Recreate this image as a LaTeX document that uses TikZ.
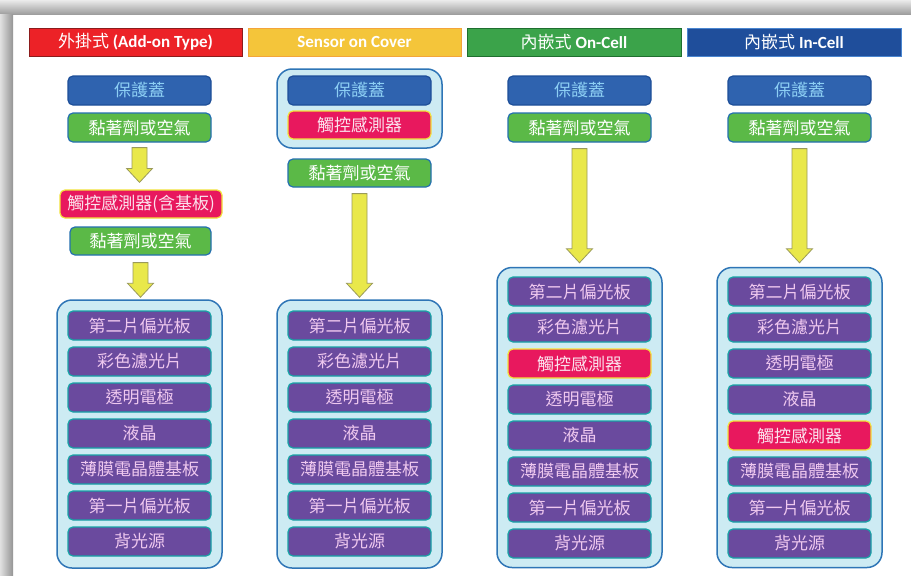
\documentclass[tikz,border=0pt]{standalone}
\usepackage{fontspec}
\newfontfamily\cjk{Noto Sans CJK TC}
\newfontfamily\lat{Carlito}
\usetikzlibrary{calc}
\definecolor{coverfill}{HTML}{2F63AF}
\definecolor{coverdraw}{HTML}{1E4F99}
\definecolor{covertext}{HTML}{8DCFF4}
\definecolor{gluefill}{HTML}{5BB947}
\definecolor{gluedraw}{HTML}{2470B0}
\definecolor{sensfill}{HTML}{E8185E}
\definecolor{sensdraw}{HTML}{F2E33A}
\definecolor{senstext}{HTML}{FBE3EE}
\definecolor{layfill}{HTML}{6A4A9E}
\definecolor{laydraw}{HTML}{17A3A6}
\definecolor{laytext}{HTML}{EFC8EF}
\definecolor{panelfill}{HTML}{CDEBF3}
\definecolor{paneldraw}{HTML}{2E75B6}
\definecolor{arrowfill}{HTML}{E9E84A}
\definecolor{arrowdraw}{HTML}{9A9A5A}
\definecolor{hred}{HTML}{EC2227}
\definecolor{hredb}{HTML}{8C1C1C}
\definecolor{hyel}{HTML}{F4C53A}
\definecolor{hyelb}{HTML}{F3A53A}
\definecolor{hgrn}{HTML}{3BA34A}
\definecolor{hgrnb}{HTML}{1F6F2F}
\definecolor{hblu}{HTML}{1F4E9B}
\definecolor{hblub}{HTML}{4A86D0}
\tikzset{
  hdr/.style={minimum width=213pt, minimum height=28pt, inner sep=0pt, text=white,
    line width=0.8pt, font=\fontsize{17}{17}\selectfont},
  box/.style={rounded corners=5pt, minimum width=143pt, minimum height=29pt, inner sep=0pt,
    line width=1.2pt, font=\cjk\fontsize{17}{17}\selectfont},
  cover/.style={box, fill=coverfill, draw=coverdraw, text=covertext},
  glue/.style={box, fill=gluefill, draw=gluedraw, text=white},
  sensor/.style={box, fill=sensfill, draw=sensdraw, text=senstext},
  layer/.style={box, fill=layfill, draw=laydraw, text=laytext},
  panel/.style={draw=paneldraw, fill=panelfill, line width=1.5pt, rounded corners=15pt,
    minimum width=165pt, inner sep=0pt},
  barrow/.style={fill=arrowfill, draw=arrowdraw, line width=0.8pt, line join=miter}
}
\newcommand\blockarrow[2]{%
  \draw[barrow] ($(#1)+(-7.5,0)$) -- ($(#2)+(-7.5,-14)$) -- ($(#2)+(-13,-14)$) -- (#2)
    -- ($(#2)+(13,-14)$) -- ($(#2)+(7.5,-14)$) -- ($(#1)+(7.5,0)$) -- cycle;}
\begin{document}
\begin{tikzpicture}[x=1pt,y=-1pt]
\useasboundingbox (0,0) rectangle (911,576);
\fill[white] (0,0) rectangle (911,576);
\shade[top color=black!8, bottom color=black!38] (0,0) rectangle (911,14);
\shade[left color=black!12, right color=black!42] (0,14) rectangle (13,576);

% headers
\node[hdr, fill=hred, draw=hredb] (h1) at (135.5,42) {\cjk 外掛式 {\lat\bfseries (Add-on Type)}};
\node[hdr, fill=hyel, draw=hyelb] (h2) at (354.5,42) {\lat\bfseries Sensor on Cover};
\node[hdr, fill=hgrn, draw=hgrnb, minimum width=214pt] (h3) at (574,42) {\cjk 內嵌式 {\lat\bfseries On-Cell}};
\node[hdr, fill=hblu, draw=hblub, minimum width=214pt] (h4) at (794,42) {\cjk 內嵌式 {\lat\bfseries In-Cell}};

% column 1
\node[cover] (c1) at (139.5,90.5) {保護蓋};
\node[glue] (g1a) at (139.5,127.5) {黏著劑或空氣};
\node[sensor, minimum width=162pt, minimum height=28pt] (s1) at (141,204) {觸控感測器(含基板)};
\node[glue, minimum width=141pt, minimum height=28pt] (g1b) at (140.5,241) {黏著劑或空氣};
\node[panel, minimum height=268pt] (p1) at (139.5,434) {};
\node[layer] (l1a) at (139.5,325.5) {第二片偏光板};
\node[layer] (l1b) at (139.5,361.5) {彩色濾光片};
\node[layer] (l1c) at (139.5,397.5) {透明電極};
\node[layer] (l1d) at (139.5,433.5) {液晶};
\node[layer] (l1e) at (139.5,469.5) {薄膜電晶體基板};
\node[layer] (l1f) at (139.5,505.5) {第一片偏光板};
\node[layer] (l1g) at (139.5,541.5) {背光源};
\coordinate (a1s) at ($(g1a.south)+(0,5)$);
\coordinate (a1e) at ($(g1a.south |- s1.north)+(0,-7)$);
\blockarrow{a1s}{a1e}
\coordinate (b1s) at ($(g1b.south)+(0,7)$);
\coordinate (b1e) at ($(g1b.south |- p1.north)+(0,-2)$);
\blockarrow{b1s}{b1e}

% column 2
\node[panel, minimum height=79pt] (pt2) at (359.5,108.5) {};
\node[cover] (c2) at (359.5,90.5) {保護蓋};
\node[sensor, minimum height=28pt] (s2) at (359.5,125) {觸控感測器};
\node[glue, minimum height=28pt] (g2) at (359.5,173) {黏著劑或空氣};
\node[panel, minimum height=268pt] (p2) at (359.5,434) {};
\node[layer] (l2a) at (359.5,325.5) {第二片偏光板};
\node[layer] (l2b) at (359.5,361.5) {彩色濾光片};
\node[layer] (l2c) at (359.5,397.5) {透明電極};
\node[layer] (l2d) at (359.5,433.5) {液晶};
\node[layer] (l2e) at (359.5,469.5) {薄膜電晶體基板};
\node[layer] (l2f) at (359.5,505.5) {第一片偏光板};
\node[layer] (l2g) at (359.5,541.5) {背光源};
\coordinate (a2s) at ($(g2.south)+(0,6)$);
\coordinate (a2e) at ($(g2.south |- p2.north)+(0,-2)$);
\blockarrow{a2s}{a2e}

% column 3
\node[cover] (c3) at (579.5,90.5) {保護蓋};
\node[glue] (g3) at (579.5,127.5) {黏著劑或空氣};
\node[panel, minimum height=300pt] (p3) at (579.5,417.5) {};
\node[layer] (l3a) at (579.5,291.5) {第二片偏光板};
\node[layer] (l3b) at (579.5,327.5) {彩色濾光片};
\node[sensor] (s3) at (579.5,363.5) {觸控感測器};
\node[layer] (l3c) at (579.5,399.5) {透明電極};
\node[layer] (l3d) at (579.5,435.5) {液晶};
\node[layer] (l3e) at (579.5,471.5) {薄膜電晶體基板};
\node[layer] (l3f) at (579.5,507.5) {第一片偏光板};
\node[layer] (l3g) at (579.5,543.5) {背光源};
\coordinate (a3s) at ($(g3.south)+(0,6)$);
\coordinate (a3e) at ($(g3.south |- p3.north)+(0,-4)$);
\blockarrow{a3s}{a3e}

% column 4
\node[cover] (c4) at (799.5,90.5) {保護蓋};
\node[glue] (g4) at (799.5,127.5) {黏著劑或空氣};
\node[panel, minimum height=300pt] (p4) at (799.5,417.5) {};
\node[layer] (l4a) at (799.5,291.5) {第二片偏光板};
\node[layer] (l4b) at (799.5,327.5) {彩色濾光片};
\node[layer] (l4c) at (799.5,363.5) {透明電極};
\node[layer] (l4d) at (799.5,399.5) {液晶};
\node[sensor] (s4) at (799.5,435.5) {觸控感測器};
\node[layer] (l4e) at (799.5,471.5) {薄膜電晶體基板};
\node[layer] (l4f) at (799.5,507.5) {第一片偏光板};
\node[layer] (l4g) at (799.5,543.5) {背光源};
\coordinate (a4s) at ($(g4.south)+(0,6)$);
\coordinate (a4e) at ($(g4.south |- p4.north)+(0,-4)$);
\blockarrow{a4s}{a4e}
\end{tikzpicture}
\end{document}
